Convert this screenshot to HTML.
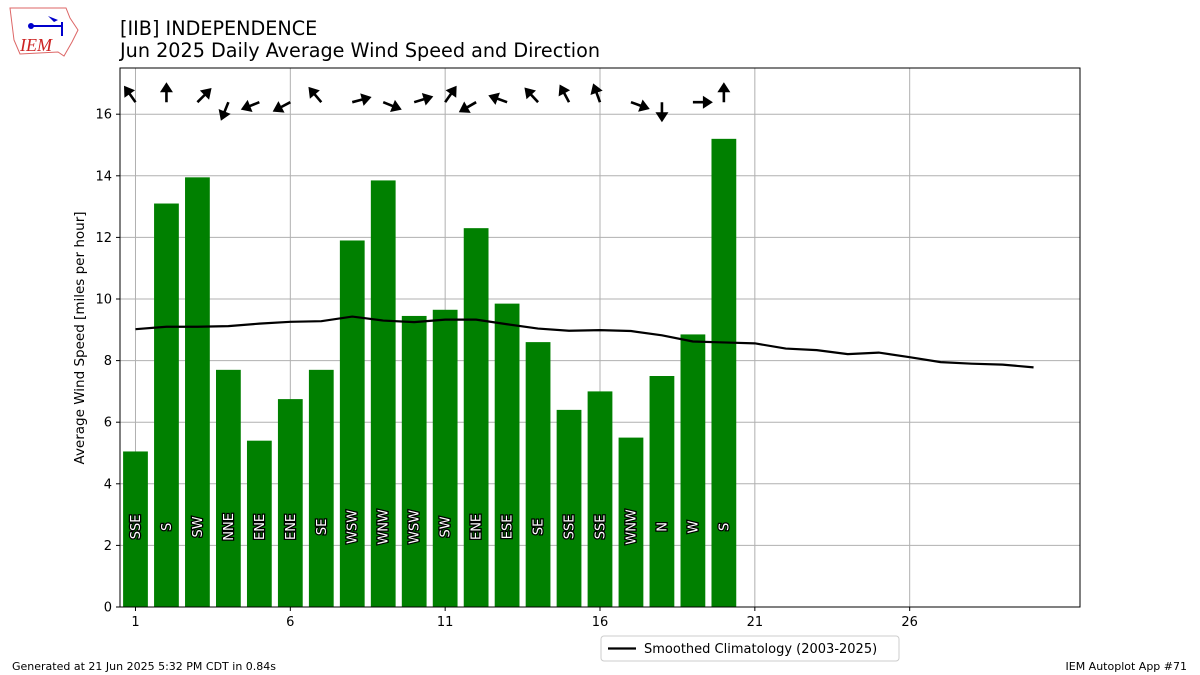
<!DOCTYPE html>
<html><head><meta charset="utf-8"><style>
body{margin:0;background:#fff;}
svg{display:block;font-family:"DejaVu Sans","Liberation Sans",sans-serif;}
</style></head><body>
<svg id="chart" width="1200" height="675" viewBox="0 0 1200 675">
<g>
<path d="M10,8 L66,8 L70,18 L78,30 L72,42 L64,56 L58,52 L20,54 L14,40 L12,24 Z" fill="none" stroke="#d66" stroke-width="1"/>
<line x1="30" y1="26" x2="62" y2="26" stroke="#00c" stroke-width="2"/>
<line x1="62" y1="22" x2="62" y2="36" stroke="#00c" stroke-width="2"/>
<circle cx="31" cy="26" r="3" fill="#00c"/>
<path d="M48,16 L58,20 L54,22 Z" fill="#00c"/>
<text x="20" y="51" font-family="Liberation Serif,serif" font-style="italic" font-size="18" fill="#c22">IEM</text>
</g>
<text x="120" y="35" font-size="19.2" fill="#000">[IIB] INDEPENDENCE</text>
<text x="120" y="57" font-size="19.2" fill="#000">Jun 2025 Daily Average Wind Speed and Direction</text>
<g id="grid"></g>
<g id="bars"></g>
<g id="clim"></g>
<g id="arrows"></g>
<g id="axes"></g>
<text x="0" y="0" transform="translate(84,338) rotate(-90)" text-anchor="middle" font-size="13.5">Average Wind Speed [miles per hour]</text>
<g>
<rect x="601" y="636" width="298" height="25" rx="3" fill="#fff" stroke="#ccc"/>
<line x1="608" y1="648.5" x2="636" y2="648.5" stroke="#000" stroke-width="2.2"/>
<text x="644" y="653" font-size="13">Smoothed Climatology (2003-2025)</text>
</g>
<text x="12" y="670" font-size="11">Generated at 21 Jun 2025 5:32 PM CDT in 0.84s</text>
<text x="1187" y="670" font-size="11" text-anchor="end">IEM Autoplot App #71</text>
</svg>
<script>
const days=[1,2,3,4,5,6,7,8,9,10,11,12,13,14,15,16,17,18,19,20];
const speeds=[5.05,13.1,13.95,7.7,5.4,6.75,7.7,11.9,13.85,9.45,9.65,12.3,9.85,8.6,6.4,7.0,5.5,7.5,8.85,15.2];
const dirLabels=["SSE","S","SW","NNE","ENE","ENE","SE","WSW","WNW","WSW","SW","ENE","ESE","SE","SSE","SSE","WNW","N","W","S"];
const dirDegrees=[145,180,225,22,68,62,140,255,292,253,215,60,110,137,152,160,290,0,270,180];
const climDays=[1,2,3,4,5,6,7,8,9,10,11,12,13,14,15,16,17,18,19,20,21,22,23,24,25,26,27,28,29,30];
const climValues=[9.02,9.1,9.1,9.12,9.2,9.26,9.28,9.43,9.3,9.25,9.33,9.33,9.18,9.04,8.97,8.99,8.96,8.82,8.62,8.59,8.56,8.39,8.34,8.21,8.26,8.11,7.95,7.9,7.87,7.78];
const yTicks=[0,2,4,6,8,10,12,14,16];
const xTicks=[1,6,11,16,21,26];
const L=120,R=1080,T=68,B=607;
const xmin=0.5,xmax=31.5,ymin=0,ymax=17.5;
const sx=v=>L+(v-xmin)/(xmax-xmin)*(R-L);
const sy=v=>B-(v-ymin)/(ymax-ymin)*(B-T);
const NS="http://www.w3.org/2000/svg";
function mk(tag,attrs,parent){const e=document.createElementNS(NS,tag);for(const k in attrs)e.setAttribute(k,attrs[k]);parent.appendChild(e);return e;}
const grid=document.getElementById('grid'),bars=document.getElementById('bars'),clim=document.getElementById('clim'),arrows=document.getElementById('arrows'),axes=document.getElementById('axes');
yTicks.forEach(t=>{const l=mk('line',{x1:L,x2:R,y1:sy(t),y2:sy(t),stroke:'#b0b0b0','stroke-width':1},grid);


mk('line',{x1:L-4,x2:L,y1:sy(t),y2:sy(t),stroke:'#000'},axes);
const tx=mk('text',{x:L-8,y:sy(t)+4.5,'text-anchor':'end','font-size':13},axes);tx.textContent=t;

});
xTicks.forEach(t=>{const l=mk('line',{x1:sx(t),x2:sx(t),y1:T,y2:B,stroke:'#b0b0b0','stroke-width':1},grid);


mk('line',{x1:sx(t),x2:sx(t),y1:B,y2:B+4,stroke:'#000'},axes);
const tx=mk('text',{x:sx(t),y:B+19,'text-anchor':'middle','font-size':13},axes);tx.textContent=t;

});
const bw=(sx(1.8)-sx(1));
days.forEach((d,i)=>{const r=mk('rect',{x:sx(d)-bw/2,y:sy(speeds[i]),width:bw,height:sy(0)-sy(speeds[i]),fill:'#008000'},bars);


const cx=sx(d)+4.5,cy=sy(2.6);
const tx=mk('text',{x:cx,y:cy,transform:`rotate(-90 ${cx} ${cy})`,'text-anchor':'middle','font-size':13,fill:'#fff',stroke:'#000','stroke-width':2.5,'paint-order':'stroke'},bars);
tx.textContent=dirLabels[i];


const to=(dirDegrees[i]+180)*Math.PI/180;const ux=Math.sin(to),uy=-Math.cos(to);const px=-uy,py=ux;
const x0=sx(d),y0=sy(16.39),len=20,hl=10,hw=6.5,sw=1.3;
const bx=x0+ux*(len-hl),by=y0+uy*(len-hl);const tipx=x0+ux*len,tipy=y0+uy*len;
const p=`M${x0+px*sw},${y0+py*sw} L${bx+px*sw},${by+py*sw} L${bx+px*hw},${by+py*hw} L${tipx},${tipy} L${bx-px*hw},${by-py*hw} L${bx-px*sw},${by-py*sw} L${x0-px*sw},${y0-py*sw} Z`;
const a=mk('path',{d:p,fill:'#000'},arrows);

});
const pts=climDays.map((d,i)=>sx(d)+','+sy(climValues[i])).join(' ');
const pl=mk('polyline',{points:pts,fill:'none',stroke:'#000','stroke-width':2.2},clim);


const fr=mk('rect',{x:L,y:T,width:R-L,height:B-T,fill:'none',stroke:'#000','stroke-width':1},axes);


</script>
</body></html>
